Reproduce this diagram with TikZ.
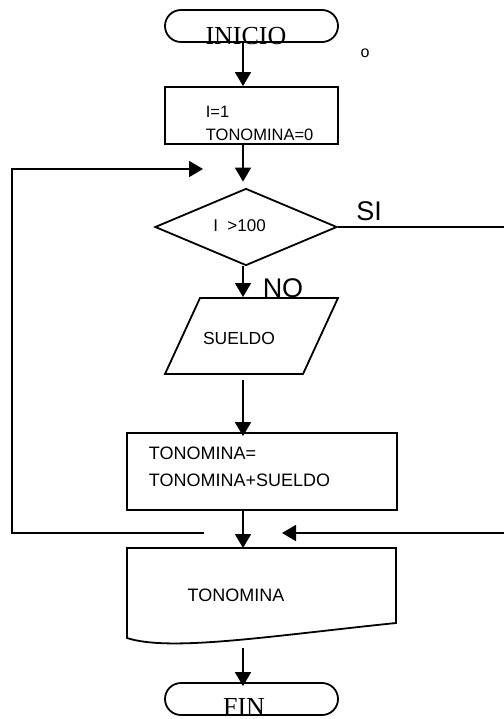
\documentclass[tikz,border=0pt]{standalone}
\usepackage{fontspec}
\setmainfont{Liberation Serif}
\setsansfont{Liberation Sans}
\usetikzlibrary{arrows.meta,shapes.geometric}
\tikzset{
  flecha/.style={-{Triangle[length=14pt,width=16pt]}},
  terminal/.style={draw, rounded corners=16pt, minimum width=173pt, minimum height=32pt, inner sep=0pt},
  caja/.style={draw, inner sep=0pt},
  texto/.style={inner sep=0pt, font=\sffamily\fontsize{18}{27}\selectfont},
  textoterm/.style={inner sep=0pt, font=\rmfamily\fontsize{26}{30}\selectfont},
  rotulo/.style={inner sep=0pt, font=\sffamily\fontsize{27}{30}\selectfont},
}
\begin{document}
\begin{tikzpicture}[x=1pt, y=-1pt, line width=1.8pt]
  \useasboundingbox (0,0) rectangle (503,719);
  % Suma de sueldos: el eje vertical pasa un poco a la izquierda del centro de las cajas, y
  % las dos vueltas (la del ciclo y la del SI) terminan en flechas que no tocan el eje.
  \coordinate (eje) at (243,0);
  \node[terminal] (inicio) at (251.5,26) {};
  \node[textoterm, anchor=base] (inicioTxt) at (246,45) {INICIO};
  \node[inner sep=0pt, font=\sffamily\fontsize{16}{18}\selectfont] (marca) at (365,53) {o};
  \node[caja, minimum width=173pt, minimum height=57pt] (init) at (251.5,115.5) {};
  \node[texto, font=\sffamily\fontsize{16.5}{23}\selectfont, anchor=north west, align=left] (initTxt) at (205,105) {I=1\\TONOMINA=0};
  \node[caja, diamond, minimum width=182pt, minimum height=77pt] (cond) at (246,227) {};
  \node[texto, font=\sffamily\fontsize{17}{20}\selectfont] (condTxt) at (239.5,226) {I \ >100};
  \node[rotulo] (si) at (369,211) {SI};
  \node[rotulo] (no) at (283,288) {NO};
  % entrada de datos (paralelogramo)
  \draw (200,298) -- (338,298) -- (303,374) -- (165,374) -- cycle;
  \coordinate (leerArriba) at (243,298);
  \coordinate (leerAbajo) at (243,380);
  \node[texto, font=\sffamily\fontsize{17.5}{20}\selectfont] (leerTxt) at (239,338) {SUELDO};
  \node[caja, minimum width=270pt, minimum height=77pt] (calc) at (262,471.5) {};
  \node[texto, anchor=north west, align=left] (calcTxt) at (148,446) {TONOMINA=\\TONOMINA+SUELDO};
  % documento de salida, con el borde de abajo ondulado
  \draw (127,548) -- (396,548) -- (396,623) .. controls (270,636) and (170,652) .. (127,638) -- cycle;
  \coordinate (docArriba) at (243,548);
  \coordinate (docAbajo) at (243,648);
  \node[texto] (docTxt) at (236,595) {TONOMINA};
  \node[terminal] (fin) at (251.5,699) {};
  \node[textoterm, anchor=base] (finTxt) at (244,715) {FIN};
  % flechas del eje
  \draw[flecha] (inicio.south -| eje) -- (init.north -| eje);
  \draw[flecha, shorten >=6pt] (init.south -| eje) -- (cond.north -| eje);
  \draw[flecha, shorten >=1pt] (cond.south -| eje) -- (leerArriba);
  \draw[flecha, shorten >=-4pt] (leerAbajo) -- (calc.north -| eje);
  \draw[flecha] (calc.south -| eje) -- (docArriba);
  \draw[flecha, shorten >=-4pt] (docAbajo) -- (fin.north -| eje);
  % vueltas (la de la derecha baja por fuera del borde)
  \coordinate (unionIzq) at (204,533);
  \coordinate (entrada) at (203,169);
  \coordinate (unionDer) at (282,533);
  \draw[flecha] (unionIzq) -- (12,533) -- (12,169) -- (entrada);
  \draw[flecha] (cond.east) -- (507,227) -- (507,533) -- (unionDer);
\end{tikzpicture}
\end{document}
